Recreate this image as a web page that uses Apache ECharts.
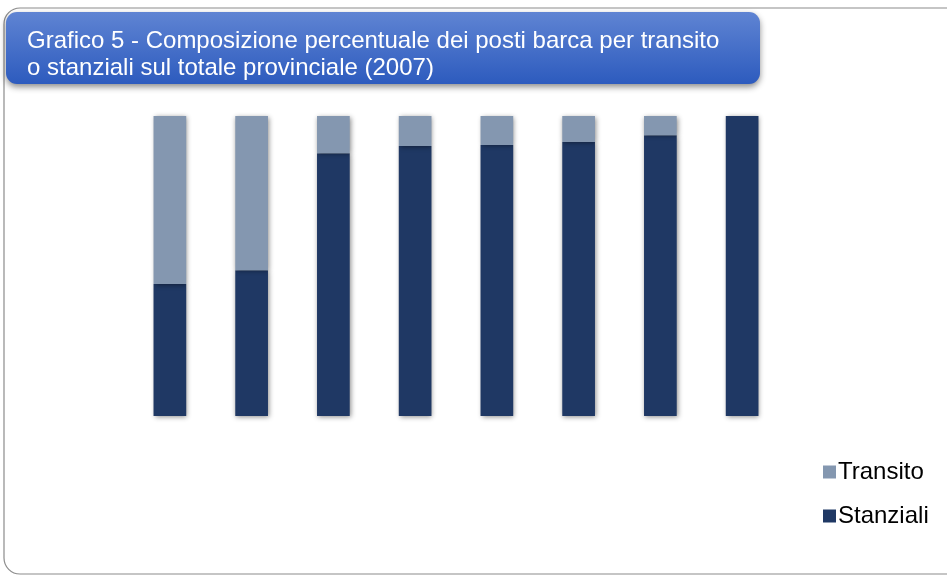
<!DOCTYPE html>
<html><head><meta charset="utf-8">
<script src="https://cdn.jsdelivr.net/npm/echarts@6/dist/echarts.min.js"></script>
<style>html,body{margin:0;padding:0;background:#fff}#c{width:947px;height:578px}</style>
</head><body><div id="c"></div>
<script>
const categories = ['1','2','3','4','5','6','7','8'];
const stanziali = [44.0, 48.6, 87.6, 90.0, 90.3, 91.3, 93.6, 100];
const transito = [56.0, 51.4, 12.4, 10.0, 9.7, 8.7, 6.4, 0];
const titleLines = ['Grafico 5 - Composizione percentuale dei posti barca per transito', 'o stanziali sul totale provinciale (2007)'];

const chart = echarts.init(document.getElementById('c'));
const barShadow = {shadowBlur: 5, shadowColor: 'rgba(0,0,0,0.45)', shadowOffsetX: 1, shadowOffsetY: 1};
chart.setOption({
  animation: false,
  grid: {left: 129, top: 116, width: 654, height: 300},
  xAxis: {type: 'category', data: categories, axisLine: {show: false}, axisTick: {show: false}, axisLabel: {show: false}},
  yAxis: {type: 'value', min: 0, max: 100, show: false, splitLine: {show: false}},
  legend: {
    orient: 'vertical', left: 818, top: 454, itemGap: 18, itemWidth: 13, itemHeight: 13, icon: 'rect',
    data: ['Transito', 'Stanziali'],
    textStyle: {fontFamily: 'Liberation Sans, Arial', fontSize: 24, lineHeight: 26, color: '#000', padding: [0,0,0,-3]}
  },
  series: [
    {name: 'Stanziali', type: 'bar', stack: 'tot', data: stanziali, barWidth: '40%',
     itemStyle: Object.assign({color: '#1F3864'}, barShadow)},
    {name: 'Transito', type: 'bar', stack: 'tot', data: transito, barWidth: '40%',
     itemStyle: Object.assign({color: '#8497B0'}, barShadow)}
  ],
  graphic: [
    {type: 'rect', z: -10, shape: {x: 4, y: 8, width: 1000, height: 566, r: 16},
     style: {fill: 'none', stroke: '#8c8c8c', lineWidth: 1.2}},
    {type: 'rect', z: 10, shape: {x: 6, y: 12, width: 754, height: 72, r: 11},
     style: {
       fill: new echarts.graphic.LinearGradient(0, 0, 0, 1, [{offset: 0, color: '#5F84D3'}, {offset: 1, color: '#2D5BBE'}]),
       shadowBlur: 6, shadowOffsetY: 3, shadowColor: 'rgba(0,0,0,0.45)'
     }},
    {type: 'text', z: 11, left: 27, top: 28,
     style: {text: titleLines.join('\n'), fill: '#fff', font: '24px "Liberation Sans", Arial', lineHeight: 27}}
  ]
});
</script></body></html>
